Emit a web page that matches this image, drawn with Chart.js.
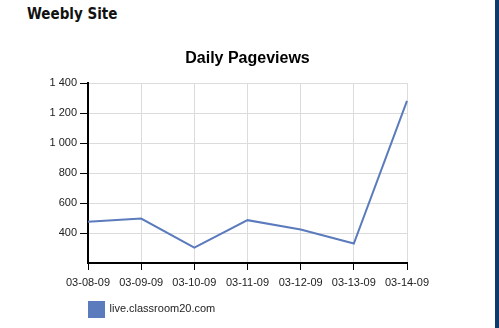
<!DOCTYPE html>
<html>
<head>
<meta charset="utf-8">
<script src="https://cdn.jsdelivr.net/npm/chart.js@4"></script>
<style>
    html, body { margin: 0; padding: 0; background: #fff; }
    body { width: 499px; height: 328px; position: relative; overflow: hidden; }
    #siteTitle {
        position: absolute; left: 27px; top: 5px;
        font-family: "DejaVu Sans Condensed", "DejaVu Sans", sans-serif;
        font-weight: bold; font-size: 15px; color: #111;
    }
    #sideBar {
        position: absolute; left: 495px; top: 0; width: 4px; height: 328px;
        background: #0b3a6b;
    }
    #chartBox { position: absolute; left: 0; top: 0; width: 499px; height: 328px; }
</style>
</head>
<body>
<div id="siteTitle">Weebly Site</div>
<div id="sideBar"></div>
<div id="chartBox"><canvas id="pageviewsChart"></canvas></div>
<script>
const dates = ['03-08-09', '03-09-09', '03-10-09', '03-11-09', '03-12-09', '03-13-09', '03-14-09'];
const pageviews = [476, 497, 303, 486, 424, 330, 1282];
const seriesName = 'live.classroom20.com';
const yTicks = [200, 400, 600, 800, 1000, 1200, 1400];

function formatThousands(v) {
    return String(v).replace(/\B(?=(\d{3})+(?!\d))/g, ' ');
}

const lineColor = '#5b7bbd';

const ctx = document.getElementById('pageviewsChart').getContext('2d');
new Chart(ctx, {
    type: 'line',
    data: {
        labels: dates,
        datasets: [{
            label: seriesName,
            data: pageviews,
            borderColor: lineColor,
            backgroundColor: lineColor,
            borderWidth: 2,
            pointRadius: 0,
            tension: 0,
            fill: false
        }]
    },
    options: {
        responsive: true,
        maintainAspectRatio: false,
        animation: false,
        layout: { padding: { left: 0, right: 92, top: 0, bottom: 1 } },
        scales: {
            x: {
                offset: false,
                grid: { color: '#dcdcdc', tickColor: '#000', tickLength: 7 },
                border: { color: '#000', width: 2 },
                ticks: {
                    color: '#222', font: { family: 'Arial', size: 11 },
                    padding: 6, maxRotation: 0, autoSkip: false
                },
                afterFit: scale => { scale.height = 38; }
            },
            y: {
                min: yTicks[0],
                max: yTicks[yTicks.length - 1],
                afterBuildTicks: scale => { scale.ticks = yTicks.map(v => ({ value: v })); },
                grid: {
                    color: '#dcdcdc',
                    tickColor: c => (c.tick && c.tick.value === yTicks[0]) ? 'rgba(0,0,0,0)' : '#000',
                    tickLength: 8
                },
                border: { color: '#000', width: 2 },
                ticks: {
                    color: '#222', font: { family: 'Arial', size: 11 }, padding: 3,
                    callback: v => v === yTicks[0] ? '' : formatThousands(v)
                },
                afterFit: scale => { scale.width = 88; }
            }
        },
        plugins: {
            title: {
                display: true,
                fullSize: false,
                text: 'Daily Pageviews',
                color: '#000',
                font: { family: 'Arial', size: 16, weight: 'bold', lineHeight: 1.2 },
                padding: { top: 49, bottom: 15 }
            },
            legend: {
                position: 'bottom',
                align: 'start',
                fullSize: false,
                labels: {
                    boxWidth: 16, boxHeight: 16, padding: 0,
                    color: '#222', font: { family: 'Arial', size: 11 }
                }
            },
            tooltip: { enabled: false }
        }
    }
});
</script>
</body>
</html>
